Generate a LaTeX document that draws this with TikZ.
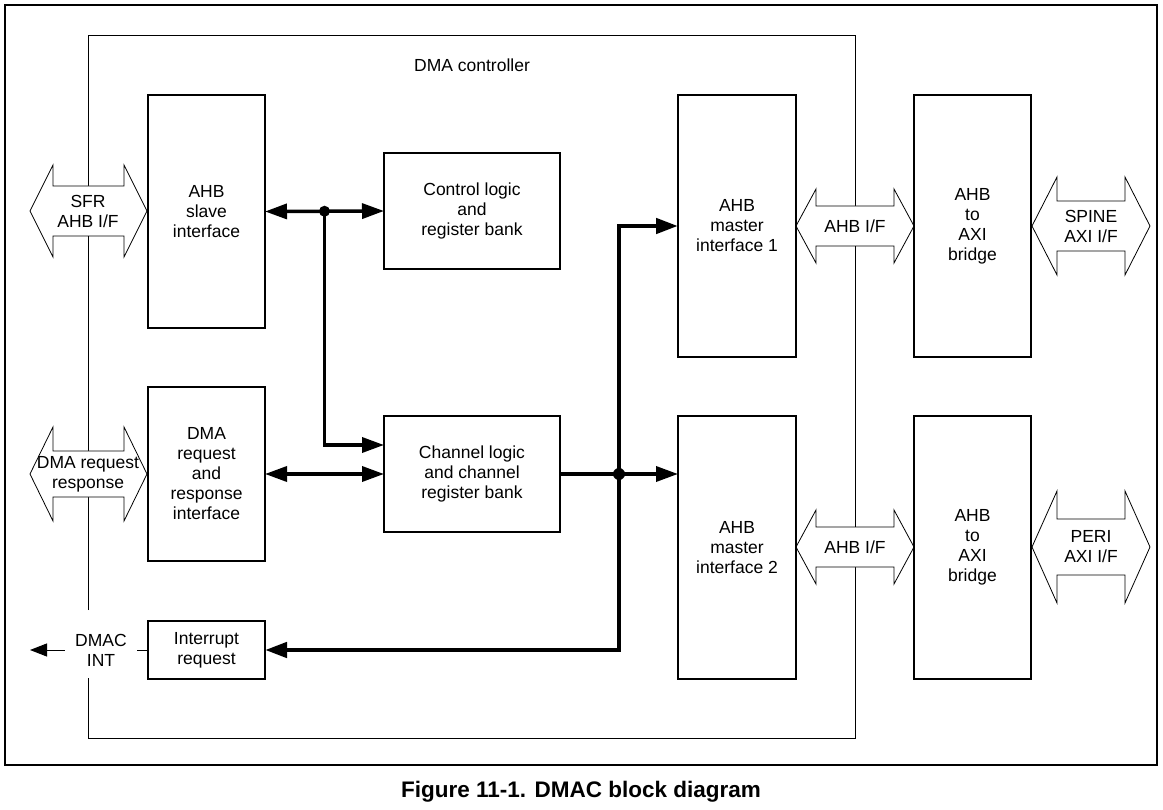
\documentclass[tikz,border=0pt]{standalone}
\usepackage{fontspec}
\setmainfont{Liberation Sans}
\usetikzlibrary{arrows.meta,calc}

\newcommand{\hollowarrow}[6]{% x left, x right, y, shaft half, head half, head length
  \draw[hollow] (#1,#3) -- (#1+#6,#3-#5) -- (#1+#6,#3-#4) -- (#2-#6,#3-#4) -- (#2-#6,#3-#5)
    -- (#2,#3) -- (#2-#6,#3+#5) -- (#2-#6,#3+#4) -- (#1+#6,#3+#4) -- (#1+#6,#3+#5) -- cycle;}

\begin{document}
\begin{tikzpicture}[x=1pt,y=-1pt,
  font=\fontsize{17.5}{20}\selectfont,
  block/.style={draw,line width=1.2pt,inner sep=0pt,outer sep=0pt,align=center},
  hollow/.style={draw,fill=white,line width=0.8pt},
  lbl/.style={align=center,inner sep=0pt},
  bus/.style={line width=3.5pt},
  >={Triangle[length=22pt,width=15pt]}]
\useasboundingbox (0,0) rectangle (1163,810);
\draw[line width=2pt] (5,5) rectangle (1157,765);
\node[font=\fontsize{22.5}{27}\selectfont\bfseries] (caption) at (581,792) {Figure 11-1. DMAC block diagram};

\draw[line width=1pt] (88,610) -- (88,36) -- (855,36) -- (855,738) -- (88,738) -- (88,678);
\node[lbl] (ctrlname) at (472,65) {DMA controller};

\hollowarrow{30}{147}{211}{25}{46}{23}
\hollowarrow{30}{147}{474}{23}{47}{23}
\hollowarrow{796}{914}{226}{20}{37}{20}
\hollowarrow{796}{914}{547}{20}{37}{20}
\hollowarrow{1032}{1150}{226}{25}{49}{25}
\hollowarrow{1032}{1150}{547}{28}{56}{25}
\node[lbl] (sfr) at (88,211) {SFR\\AHB I/F};
\node[lbl] (reqif) at (88,474) {DMA request\\response};
\node[lbl] (ahbif1) at (855,226) {AHB I/F};
\node[lbl] (ahbif2) at (855,547) {AHB I/F};
\node[lbl] (spine) at (1091,226) {SPINE\\AXI I/F};
\node[lbl] (peri) at (1091,547) {PERI\\AXI I/F};

\node[block,minimum width=117pt,minimum height=233pt] (slave) at (206.5,211.5) {AHB\\slave\\interface};
\node[block,minimum width=176pt,minimum height=116pt] (ctrl) at (472,211) {Control logic\\and\\register bank};
\node[block,minimum width=117pt,minimum height=174pt] (dmareq) at (206.5,474) {DMA\\request\\and\\response\\interface};
\node[block,minimum width=176pt,minimum height=116pt] (chan) at (472,474) {Channel logic\\and channel\\register bank};
\node[block,minimum width=117pt,minimum height=58pt] (intreq) at (206.5,650) {Interrupt\\request};
\node[block,minimum width=118pt,minimum height=262pt] (mst1) at (737,226) {AHB\\master\\interface 1};
\node[block,minimum width=118pt,minimum height=263pt] (mst2) at (737,547.5) {AHB\\master\\interface 2};
\node[block,minimum width=117pt,minimum height=262pt] (brg1) at (972.5,226) {AHB\\to\\AXI\\bridge};
\node[block,minimum width=117pt,minimum height=263pt] (brg2) at (972.5,547.5) {AHB\\to\\AXI\\bridge};

\node[lbl,minimum width=72pt] (dmacint) at (101,650) {DMAC\\INT};
\coordinate (intout) at (30,650);
\draw[line width=1pt] (intreq.west) -- (dmacint.east);
\draw[line width=1pt,-{Triangle[length=17pt,width=13pt]}] (dmacint.west) -- (intout);

\coordinate (jA) at ($(slave.east)!0.5!(ctrl.west)$);
\coordinate (jB) at ($(chan.east)!0.5!(chan.east -| mst2.west)$);
\draw[bus,<->] (slave.east) -- (ctrl.west);
\draw[bus,->] (jA) |- ($(chan.north west)!0.25!(chan.south west)$);
\draw[bus,<->] (dmareq.east) -- (chan.west);
\draw[bus] (chan.east) -- (jB);
\draw[bus,->] (jB) -- (chan.east -| mst2.west);
\draw[bus,line width=4.5pt,->] (jB) |- (mst1.west);
\draw[bus,line width=4.5pt,->] (jB) |- (intreq.east);
\fill (jA) circle (5.5pt);
\fill (jB) circle (6pt);
\end{tikzpicture}
\end{document}
